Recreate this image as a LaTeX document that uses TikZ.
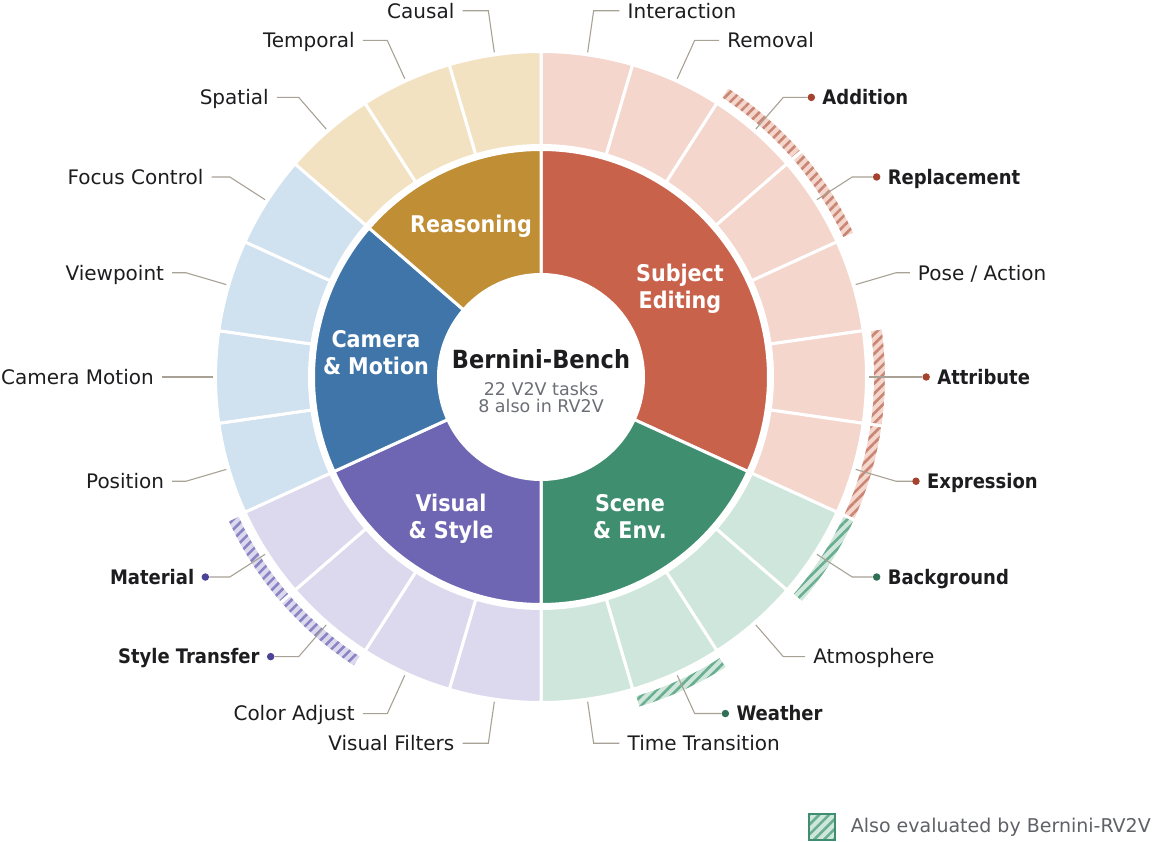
\documentclass[tikz,border=0pt]{standalone}
\usepackage{fontspec}
\setmainfont{DejaVu Sans}
\newfontfamily\semib{DejaVu Sans Condensed Bold}
\usetikzlibrary{positioning,patterns.meta}

\definecolor{Dsubj}{HTML}{C8624B}\definecolor{Lsubj}{HTML}{F4D6CD}
\definecolor{Dscene}{HTML}{3E8E6F}\definecolor{Lscene}{HTML}{CFE6DC}
\definecolor{Dvis}{HTML}{6E66B3}\definecolor{Lvis}{HTML}{DCD9EE}
\definecolor{Dcam}{HTML}{3F75A8}\definecolor{Lcam}{HTML}{D0E1EF}
\definecolor{Dreas}{HTML}{C08E35}\definecolor{Lreas}{HTML}{F2E2C2}
\definecolor{Hsubj}{HTML}{C98674}\definecolor{Psubj}{HTML}{A4422E}
\definecolor{Hscene}{HTML}{6AAE90}\definecolor{Pscene}{HTML}{2F6F56}
\definecolor{Hvis}{HTML}{8A84C4}\definecolor{Pvis}{HTML}{4A4397}
\definecolor{ink}{HTML}{1D1D1F}
\definecolor{leadgray}{HTML}{A8A296}
\definecolor{subgray}{HTML}{6B6E76}
\definecolor{keygray}{HTML}{5F6166}

% annular sector: start angle, end angle, inner radius, outer radius
\newcommand\ringpart[4]{({#1}:#3) arc[start angle={#1}, end angle={#2}, radius=#3]
  -- ({#2}:#4) arc[start angle={#2}, end angle={#1}, radius=#4] -- cycle}

\begin{document}
\begin{tikzpicture}[x=1pt,y=1pt,
  task/.style={font=\fontsize{20}{24}\selectfont, text=ink, inner xsep=8pt,
    inner ysep=0pt, text height=14.6pt, text depth=0pt},
  rvtask/.style={task, font=\fontsize{20}{24}\semib, inner xsep=4pt},
  leader/.style={draw=leadgray, line width=1.1pt},
  dot/.style={circle, inner sep=0pt, minimum size=7.5pt},
  catlabel/.style={text=white, font=\fontsize{23}{27}\semib, align=center},
  hatch/.style={pattern={Lines[angle=45,distance=7pt,line width=2.6pt]}}]
\def\s{16.3636}
\useasboundingbox (-541,-465) rectangle (615,377);

% categories
\foreach \a/\b/\c in {0/7/subj,7/11/scene,11/15/vis,15/19/cam,19/22/reas}
  \filldraw[fill=D\c, draw=white, line width=3pt]
    \ringpart{90-\a*\s}{90-\b*\s}{102.5}{227.5};

% tasks
\foreach \a/\b/\c in {0/7/subj,7/11/scene,11/15/vis,15/19/cam,19/22/reas} {
  \pgfmathtruncatemacro\e{\b-1}
  \foreach \i in {\a,...,\e}
    \filldraw[fill=L\c, draw=white, line width=3pt]
      \ringpart{90-\i*\s}{90-(\i+1)*\s}{231.5}{325.5};
}

% RV2V bands
\foreach \i/\c in {2/subj,3/subj,5/subj,6/subj,7/scene,9/scene,13/vis,14/vis} {
  \fill[L\c] \ringpart{90-\i*\s}{90-(\i+1)*\s}{331.5}{345.5};
  \filldraw[hatch, pattern color=H\c, draw=white, line width=3pt]
    \ringpart{90-\i*\s}{90-(\i+1)*\s}{331.5}{345.5};
}

% right side labels
\foreach \i/\name in {0/Interaction,1/Removal,4/{Pose / Action},8/Atmosphere,10/Time Transition} {
  \pgfmathsetmacro\t{90-(\i+0.5)*\s}
  \pgfmathsetmacro\h{9+17*abs(sin(\t))}
  \coordinate (s\i) at (\t:328);
  \coordinate (k\i) at (\t:370);
  \node[task, right=\h pt of k\i] (t\i) {\name};
  \draw[leader] (s\i) -- (k\i) -- (t\i.west);
}
\foreach \i/\name/\c in {2/Addition/subj,3/Replacement/subj,5/Attribute/subj,
    6/Expression/subj,7/Background/scene,9/Weather/scene} {
  \pgfmathsetmacro\t{90-(\i+0.5)*\s}
  \pgfmathsetmacro\h{11.25+17*abs(sin(\t))}
  \coordinate (s\i) at (\t:328);
  \coordinate (k\i) at (\t:370);
  \node[dot, fill=P\c, right=\h pt of k\i] (d\i) {};
  \node[rvtask, right=3pt of d\i] (t\i) {\name};
  \draw[leader] (s\i) -- (k\i) -- (d\i);
}

% left side labels
\foreach \i/\name in {11/Visual Filters,12/Color Adjust,15/Position,16/Camera Motion,
    17/Viewpoint,18/Focus Control,19/Spatial,20/Temporal,21/Causal} {
  \pgfmathsetmacro\t{90-(\i+0.5)*\s}
  \pgfmathsetmacro\h{9+17*abs(sin(\t))}
  \coordinate (s\i) at (\t:328);
  \coordinate (k\i) at (\t:370);
  \node[task, left=\h pt of k\i] (t\i) {\name};
  \draw[leader] (s\i) -- (k\i) -- (t\i.east);
}
\foreach \i/\name/\c in {13/Style Transfer/vis,14/Material/vis} {
  \pgfmathsetmacro\t{90-(\i+0.5)*\s}
  \pgfmathsetmacro\h{11.25+17*abs(sin(\t))}
  \coordinate (s\i) at (\t:328);
  \coordinate (k\i) at (\t:370);
  \node[dot, fill=P\c, left=\h pt of k\i] (d\i) {};
  \node[rvtask, left=3pt of d\i] (t\i) {\name};
  \draw[leader] (s\i) -- (k\i) -- (d\i);
}

% category names
\node[catlabel] (reas) at (-70,151) {Reasoning};
\node[catlabel] (subj) at (139,88) {Subject\\Editing};
\node[catlabel] (cam) at (-165,24) {Camera\\\& Motion};
\node[catlabel] (vis) at (-90,-142) {Visual\\\& Style};
\node[catlabel] (scene) at (89,-140) {Scene\\\& Env.};

% centre
\node[font=\fontsize{25}{30}\semib, text=ink] (title) at (0,18) {Bernini-Bench};
\node[font=\fontsize{17.5}{21}\selectfont, text=subgray] (sub1) at (0,-12) {22 V2V tasks};
\node[font=\fontsize{17.5}{21}\selectfont, text=subgray] (sub2) at (0,-29) {8 also in RV2V};

% legend
\node[draw=Dscene, line width=1.3pt, minimum size=26pt, inner sep=0pt,
  preaction={fill=Lscene}, hatch, pattern color=Hscene] (key) at (281,-450) {};
\node[font=\fontsize{19}{23}\selectfont, text=keygray, inner sep=0pt,
  right=15pt of key] (keytext) {Also evaluated by Bernini-RV2V};
\end{tikzpicture}
\end{document}
